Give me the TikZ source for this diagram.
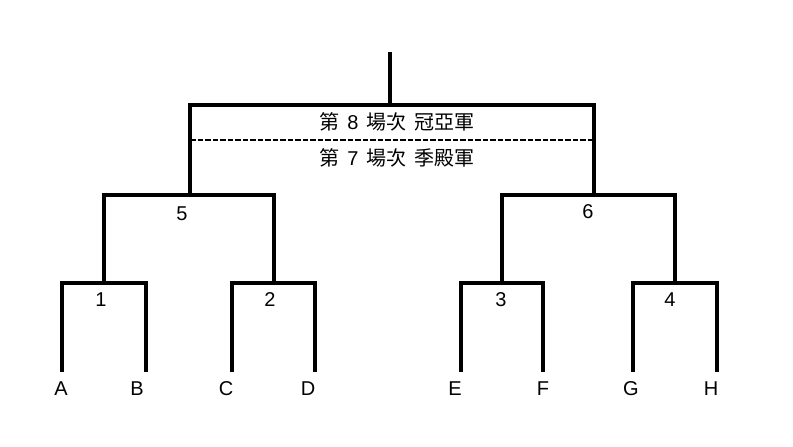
\documentclass[tikz,border=0pt]{standalone}
\usepackage{fontspec}
\setmainfont{Liberation Sans}
\newfontfamily\cjk{Noto Sans CJK TC}
\usetikzlibrary{positioning}
\tikzset{
  bracket/.style={line width=3.6pt},
  divider/.style={line width=2.8pt, dash pattern=on 5.5pt off 2pt},
  team/.style={font=\fontsize{20}{22}\selectfont, inner sep=1pt},
  matchno/.style={font=\fontsize{20}{22}\selectfont, inner sep=1pt},
  final/.style={font=\cjk\fontsize{20}{22}\selectfont, inner sep=1pt}
}
\newcommand{\gap}{\hspace{8pt}}

\begin{document}
\begin{tikzpicture}[x=1pt,y=-1pt]
    \useasboundingbox (0,0) rectangle (793,447);
    % Teams
    \foreach \t/\x/\lx in {A/62/61,B/146/137,C/232/226,D/315/308,E/461/455,F/543/543,G/633/631,H/717/711}{
        \coordinate (\t) at (\x,372);
        \node[team] (lbl\t) at (\lx,389) {\t};
    }
    % Junctions
    \coordinate (m1) at (104,283);
    \coordinate (m2) at (274,283);
    \coordinate (m3) at (502,283);
    \coordinate (m4) at (675,283);
    \coordinate (m5) at (190,195);
    \coordinate (m6) at (594,195);
    \coordinate (fin) at (390,105);
    \coordinate (top) at (390,52);
    % Round 1
    \draw[bracket] (A) |- (m1) -| (B);
    \draw[bracket] (C) |- (m2) -| (D);
    \draw[bracket] (E) |- (m3) -| (F);
    \draw[bracket] (G) |- (m4) -| (H);
    % Semifinals
    \draw[bracket] (m1) |- (m5) -| (m2);
    \draw[bracket] (m3) |- (m6) -| (m4);
    % Final
    \draw[bracket] (m5) |- (fin) -| (m6);
    \draw[bracket] (fin) -- (top);
    \draw[divider] (m5 |- 0,140) coordinate (dl) -- (m6 |- dl);
    % Match labels
    \node[matchno] (s1) at (101,300) {1};
    \node[matchno] (s2) at (270,300) {2};
    \node[matchno] (s3) at (501,300) {3};
    \node[matchno] (s4) at (670,300) {4};
    \node[matchno] (s5) at (182,214) {5};
    \node[matchno] (s6) at (588,212) {6};
    \node[final] (g8) at (397,122) {第\gap{\rmfamily 8}\gap 場次\gap 冠亞軍};
    \node[final] (g7) at (397,158) {第\gap{\rmfamily 7}\gap 場次\gap 季殿軍};
\end{tikzpicture}
\end{document}
